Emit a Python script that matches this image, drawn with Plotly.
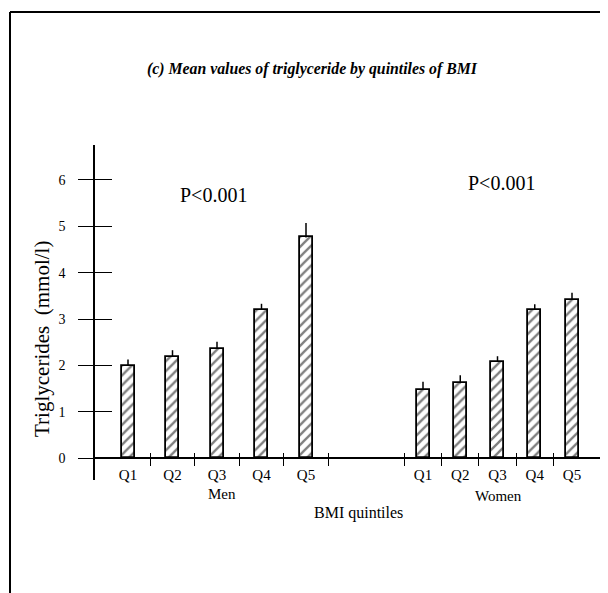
import plotly.graph_objects as go

# ---------------- data ----------------
categories = ["Q1", "Q2", "Q3", "Q4", "Q5"]
men_values = [2.00, 2.19, 2.36, 3.20, 4.76]
men_err = [0.13, 0.14, 0.15, 0.13, 0.31]
women_values = [1.47, 1.62, 2.08, 3.20, 3.42]
women_err = [0.18, 0.17, 0.12, 0.12, 0.15]
y_ticks = [0, 1, 2, 3, 4, 5, 6]
group_labels = ["Men", "Women"]
title_text = "(c) Mean values of triglyceride by quintiles of BMI"
p_text = "P<0.001"
y_title = "Triglycerides\u00a0\u00a0(mmol/l)"
x_title = "BMI quintiles"

# ---------------- geometry (page pixels; page body has an 8px margin) ----------------
OFF = 8
PAGE_W, PAGE_H = 608, 593
W, H = PAGE_W - OFF, PAGE_H - OFF
def fx(px):
    return (px - OFF) / W
def fy(py):
    return 1 - (py - OFF) / H

Y_TOP, Y_BOT = 145, 480
Y0_PX, UNIT = 458.3, 46.4
yr = [(Y0_PX - Y_BOT) / UNIT, (Y0_PX - Y_TOP) / UNIT]
AXIS_X, SPLIT, RIGHT = 95, 400, 608
MEN_C0, MEN_S = 128, 44.5
WOM_C0, WOM_S = 423, 37.25
BAR_PX = 13
men_range = [(AXIS_X - MEN_C0) / MEN_S, (SPLIT - MEN_C0) / MEN_S]
wom_range = [(SPLIT - WOM_C0) / WOM_S, (RIGHT - WOM_C0) / WOM_S]

SERIF = "Liberation Serif, Times New Roman, serif"
BLACK = "#000000"

def bar_trace(vals, errs, xa, width):
    return go.Bar(
        x=categories, y=vals, xaxis=xa, yaxis="y", width=width,
        marker=dict(color="white", line=dict(color=BLACK, width=1.8),
                    pattern=dict(shape="/", fgcolor=BLACK, bgcolor="white",
                                 size=7, solidity=0.33)),
        error_y=dict(type="data", array=errs, arrayminus=[0] * len(errs),
                     symmetric=False, width=0, thickness=1.5, color=BLACK),
        showlegend=False, hoverinfo="skip",
    )

fig = go.Figure()
fig.add_trace(bar_trace(men_values, men_err, "x", BAR_PX / MEN_S))
fig.add_trace(bar_trace(women_values, women_err, "x2", BAR_PX / WOM_S))
# empty traces so that the tick-only overlay axes get drawn
for xa in ["x3", "x4"]:
    fig.add_trace(go.Scatter(x=[], y=[], xaxis=xa, yaxis="y2", mode="markers",
                             showlegend=False, hoverinfo="skip"))

base_pos = fy(Y0_PX)
tick_pos = fy(Y0_PX - 6.5)

xcommon = dict(type="category", categoryorder="array", categoryarray=categories,
               anchor="free", position=base_pos, showline=True, linecolor=BLACK,
               linewidth=1.5, ticks="", showgrid=False, zeroline=False,
               tickfont=dict(family=SERIF, size=15, color=BLACK),
               ticklabelstandoff=3, fixedrange=True)
overlay_common = dict(type="linear", anchor="free", position=tick_pos,
                      ticks="outside", ticklen=13, tickwidth=1.3, tickcolor=BLACK,
                      showticklabels=False, showline=False, showgrid=False,
                      zeroline=False, fixedrange=True)

fig.update_layout(
    width=W, height=H,
    margin=dict(l=0, r=0, t=0, b=0),
    paper_bgcolor="white", plot_bgcolor="rgba(0,0,0,0)",
    bargap=0,
    xaxis=dict(domain=[fx(AXIS_X), fx(SPLIT)], range=men_range, **xcommon),
    xaxis2=dict(domain=[fx(SPLIT), 1], range=wom_range, **xcommon),
    xaxis3=dict(overlaying="x", range=men_range,
                tickvals=[0.5, 1.5, 2.5, 3.5, 4.5], **overlay_common),
    xaxis4=dict(overlaying="x2", range=wom_range,
                tickvals=[-0.5, 0.5, 1.5, 2.5, 3.5], **overlay_common),
    yaxis=dict(domain=[fy(Y_BOT), fy(Y_TOP)], range=yr, anchor="x",
               showline=True, linecolor=BLACK, linewidth=1.5,
               ticks="outside", ticklen=15, tickwidth=1.3, tickcolor=BLACK,
               tickvals=y_ticks, showgrid=False, zeroline=False,
               tickfont=dict(family=SERIF, size=14, color=BLACK),
               ticklabelstandoff=10, fixedrange=True),
    yaxis2=dict(overlaying="y", anchor="x", range=yr, tickvals=y_ticks,
                ticks="inside", ticklen=17, tickwidth=1.3, tickcolor=BLACK,
                showticklabels=False, showline=False, showgrid=False,
                zeroline=False, fixedrange=True),
)

ann = [
    dict(x=fx(312), y=fy(69), text="<b><i>" + title_text + "</i></b>",
         font=dict(family=SERIF, size=15.8, color=BLACK)),
    dict(x=fx(213), y=fy(195), text=p_text, font=dict(family=SERIF, size=20, color=BLACK)),
    dict(x=fx(501), y=fy(183), text=p_text, font=dict(family=SERIF, size=20, color=BLACK)),
    dict(x=fx(42), y=fy(339), text=y_title, textangle=-90,
         font=dict(family=SERIF, size=21, color=BLACK)),
    dict(x=fx(222), y=fy(494), text=group_labels[0], font=dict(family=SERIF, size=15, color=BLACK)),
    dict(x=fx(498), y=fy(496), text=group_labels[1], font=dict(family=SERIF, size=15, color=BLACK)),
    dict(x=fx(358), y=fy(513), text=x_title, font=dict(family=SERIF, size=16, color=BLACK)),
]
for a in ann:
    a.update(xref="paper", yref="paper", showarrow=False, xanchor="center", yanchor="middle")
fig.update_layout(annotations=ann)

# frame around the figure panel
fig.update_layout(shapes=[
    dict(type="line", xref="paper", yref="paper", x0=fx(10), x1=1, y0=fy(12), y1=fy(12),
         line=dict(color=BLACK, width=2)),
    dict(type="line", xref="paper", yref="paper", x0=fx(10), x1=fx(10), y0=fy(12), y1=0,
         line=dict(color=BLACK, width=2)),
])

fig.write_html("out.html")
